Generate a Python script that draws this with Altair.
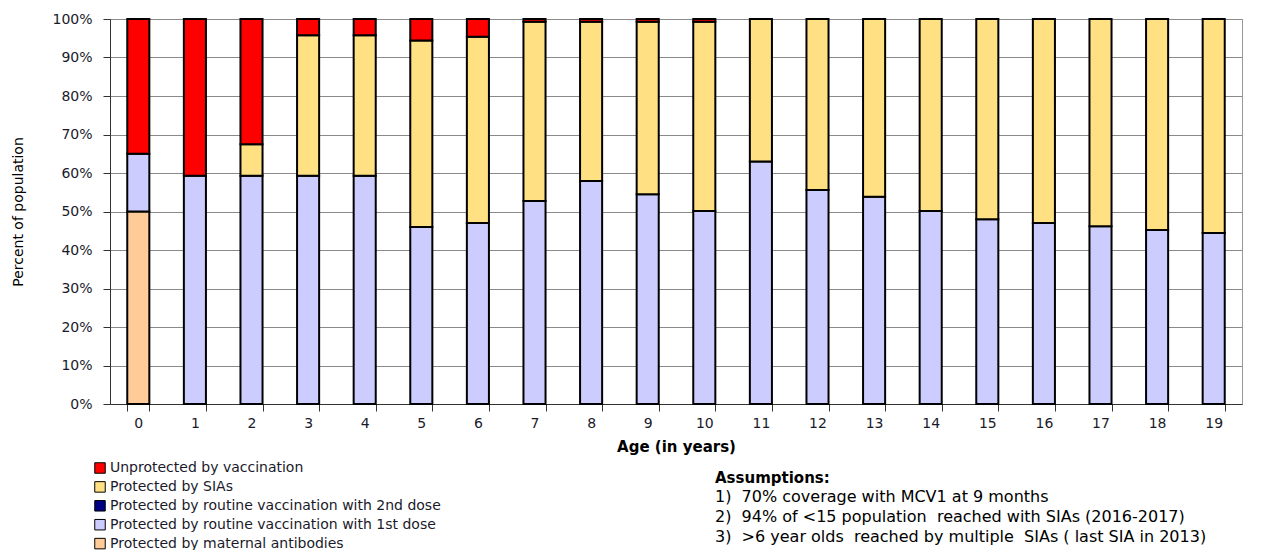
import altair as alt
import pandas as pd

ages = list(range(20))
series_names = [
    "Unprotected by vaccination",
    "Protected by SIAs",
    "Protected by routine vaccination with 2nd dose",
    "Protected by routine vaccination with 1st dose",
    "Protected by maternal antibodies",
]
series_colors = ["#FF0000", "#FFE082", "#000080", "#CCCCFF", "#FFCC99"]

maternal = [50, 0, 0, 0, 0, 0, 0, 0, 0, 0, 0, 0, 0, 0, 0, 0, 0, 0, 0, 0]
dose1 = [15, 59.3, 59.3, 59.3, 59.3, 46, 47, 52.7, 57.9, 54.5, 50.1, 63, 55.6, 53.8, 50.1, 48, 47, 46.2, 45.2, 44.4]
dose2 = [0] * 20
sias = [0, 0, 8.2, 36.5, 36.5, 48.4, 48.4, 46.6, 41.4, 44.8, 49.2, 37, 44.4, 46.2, 49.9, 52, 53, 53.8, 54.8, 55.6]
unprotected = [35, 40.7, 32.5, 4.2, 4.2, 5.6, 4.6, 0.7, 0.7, 0.7, 0.7, 0, 0, 0, 0, 0, 0, 0, 0, 0]

assumption_head = "Assumptions:"
assumption_lines = [
    "1)\u00a0 70% coverage with MCV1 at 9 months",
    "2)\u00a0 94% of <15 population\u00a0 reached with SIAs (2016-2017)",
    "3)\u00a0 >6 year olds\u00a0 reached by multiple\u00a0 SIAs ( last SIA in 2013)",
]

rows = []
stack_pos = {
    "Protected by maternal antibodies": (maternal, 0),
    "Protected by routine vaccination with 1st dose": (dose1, 1),
    "Protected by routine vaccination with 2nd dose": (dose2, 2),
    "Protected by SIAs": (sias, 3),
    "Unprotected by vaccination": (unprotected, 4),
}
for name, (vals, order) in stack_pos.items():
    for a, v in zip(ages, vals):
        rows.append({"age": str(a), "series": name, "value": v, "ord": order})
df = pd.DataFrame(rows)

age_labels = [str(a) for a in ages]

chart = alt.Chart(df).transform_filter("datum.value > 0").mark_bar(
    stroke="black", strokeWidth=2
).encode(
    x=alt.X(
        "age:N",
        sort=age_labels,
        scale=alt.Scale(paddingInner=0.61, paddingOuter=0.305),
        axis=alt.Axis(
            title="Age (in years)",
            labelAngle=0,
            labelFontSize=14,
            labelColor="#1a1a2a",
            labelPadding=5,
            tickBand="extent",
            tickSize=7,
            tickColor="#333",
            domainColor="#333",
            titleFontSize=15,
            titleFontWeight="bold",
            titleColor="black",
            titlePadding=9,
            grid=False,
        ),
    ),
    y=alt.Y(
        "value:Q",
        stack="zero",
        scale=alt.Scale(domain=[0, 100], nice=False),
        axis=alt.Axis(
            title="Percent of population",
            values=list(range(0, 101, 10)),
            labelExpr="datum.value + '%'",
            labelFontSize=14,
            labelColor="#1a1a2a",
            labelPadding=11,
            tickSize=7,
            tickColor="#333",
            domainColor="#333",
            gridColor="#8a8a8a",
            gridWidth=1,
            titleFontSize=14,
            titleFontWeight="normal",
            titleColor="black",
            titlePadding=26,
        ),
    ),
    color=alt.Color(
        "series:N",
        scale=alt.Scale(domain=series_names, range=series_colors),
        legend=alt.Legend(
            title=None,
            orient="none",
            legendX=-17,
            legendY=442,
            direction="vertical",
            symbolType="square",
            symbolSize=110,
            symbolStrokeColor="black",
            symbolStrokeWidth=1,
            labelFontSize=14,
            labelColor="#1a1a2a",
            labelOffset=3,
            rowPadding=2.9,
            labelLimit=600,
        ),
    ),
    order=alt.Order("ord:Q", sort="ascending"),
).properties(
    width=1132,
    height=385,
    title=alt.TitleParams(
        text=assumption_head,
        subtitle=assumption_lines,
        orient="bottom",
        anchor="start",
        frame="group",
        dx=605,
        offset=-80,
        font="DejaVu Sans",
        fontSize=15,
        fontWeight="bold",
        color="black",
        subtitleFont="DejaVu Sans",
        subtitleFontSize=16,
        subtitleColor="black",
        subtitleLineHeight=20,
        subtitlePadding=3,
    ),
    autosize=alt.AutoSizeParams(type="none"),
    padding={"left": 102, "top": 11, "right": 22, "bottom": 146},
).configure(
    font="DejaVu Sans",
).configure_view(
    stroke="#999999",
    strokeWidth=1,
)

chart.save("out.html", embed_options={"renderer": "svg", "actions": False})
